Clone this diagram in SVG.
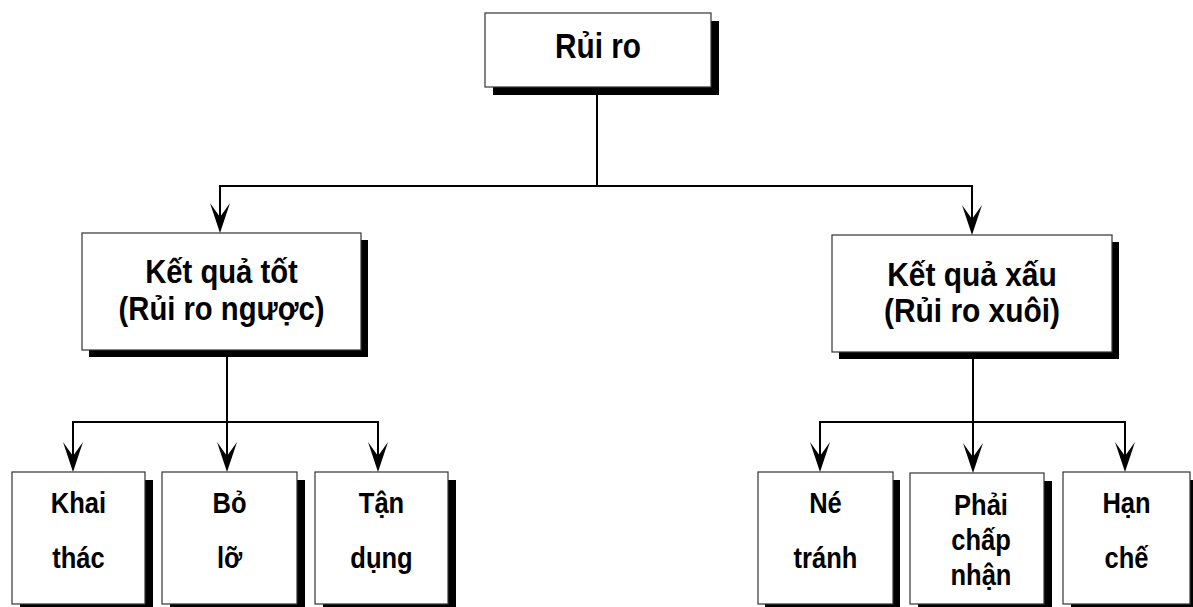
<svg xmlns="http://www.w3.org/2000/svg" width="1193" height="607" viewBox="0 0 1193 607">
<style>
.box{fill:#fff;stroke:#333;stroke-width:1.2}
.sh{fill:#000}
.conn{fill:none;stroke:#000;stroke-width:2}
.t{font-family:"Liberation Sans",Arial,sans-serif;font-weight:bold;fill:#000;text-anchor:middle}
.big{font-size:35px}
.mid{font-size:34px}
.sm{font-size:29px}
</style>
<defs>
<path id="ah" d="M0,0 L-10,-30 L0,-16 L10,-30 Z" fill="#000"/>
</defs>
<rect width="1193" height="607" fill="#fff"/>
<g id="connectors">
<path class="conn" d="M597,87 V186"/>
<path class="conn" d="M597,186 H220 V225"/>
<path class="conn" d="M597,186 H972 V227"/>
<path class="conn" d="M227,350 V422"/>
<path class="conn" d="M227,422 H73 V464"/>
<path class="conn" d="M227,422 V464"/>
<path class="conn" d="M227,422 H378 V464"/>
<path class="conn" d="M973,352 V422"/>
<path class="conn" d="M973,422 H820 V464"/>
<path class="conn" d="M973,422 V465"/>
<path class="conn" d="M973,422 H1125 V464"/>
<use href="#ah" x="220" y="233"/>
<use href="#ah" x="972" y="235"/>
<use href="#ah" x="73" y="472"/>
<use href="#ah" x="227" y="472"/>
<use href="#ah" x="378" y="472"/>
<use href="#ah" x="820" y="472"/>
<use href="#ah" x="973" y="473"/>
<use href="#ah" x="1125" y="472"/>
</g>
<g id="rui-ro">
<rect class="sh" x="493" y="21" width="226" height="74"/>
<rect class="box" x="485" y="13" width="226" height="74"/>
<text class="t big" transform="translate(598,58) scale(0.85,1)">Rủi ro</text>
</g>
<g id="ket-qua-tot">
<rect class="sh" x="89" y="240" width="279" height="117"/>
<rect class="box" x="82" y="233" width="279" height="117"/>
<text class="t mid" transform="translate(221.5,283) scale(0.86,1)">Kết quả tốt</text>
<text class="t mid" transform="translate(221.5,320) scale(0.86,1)">(Rủi ro ngược)</text>
</g>
<g id="ket-qua-xau">
<rect class="sh" x="839" y="242" width="280" height="117"/>
<rect class="box" x="832" y="235" width="280" height="117"/>
<text class="t mid" transform="translate(972,286) scale(0.88,1)">Kết quả xấu</text>
<text class="t mid" transform="translate(972,322) scale(0.88,1)">(Rủi ro xuôi)</text>
</g>
<g id="khai-thac">
<rect class="sh" x="20" y="480" width="133" height="132"/>
<rect class="box" x="12" y="472" width="133" height="132"/>
<text class="t sm" transform="translate(78.5,513) scale(0.88,1)">Khai</text>
<text class="t sm" transform="translate(78.5,568) scale(0.88,1)">thác</text>
</g>
<g id="bo-lo">
<rect class="sh" x="170" y="480" width="135" height="132"/>
<rect class="box" x="162" y="472" width="135" height="132"/>
<text class="t sm" transform="translate(229.5,513) scale(0.88,1)">Bỏ</text>
<text class="t sm" transform="translate(229.5,568) scale(0.88,1)">lỡ</text>
</g>
<g id="tan-dung">
<rect class="sh" x="323" y="480" width="133" height="132"/>
<rect class="box" x="315" y="472" width="133" height="132"/>
<text class="t sm" transform="translate(381.5,513) scale(0.88,1)">Tận</text>
<text class="t sm" transform="translate(381.5,568) scale(0.88,1)">dụng</text>
</g>
<g id="ne-tranh">
<rect class="sh" x="765" y="480" width="135" height="132"/>
<rect class="box" x="758" y="472" width="135" height="132"/>
<text class="t sm" transform="translate(825.5,513) scale(0.88,1)">Né</text>
<text class="t sm" transform="translate(825.5,568) scale(0.88,1)">tránh</text>
</g>
<g id="phai-chap-nhan">
<rect class="sh" x="918" y="481" width="134" height="131"/>
<rect class="box" x="910" y="473" width="134" height="131"/>
<text class="t sm" transform="translate(981,515) scale(0.88,1)">Phải</text>
<text class="t sm" transform="translate(981,550) scale(0.88,1)">chấp</text>
<text class="t sm" transform="translate(981,585) scale(0.88,1)">nhận</text>
</g>
<g id="han-che">
<rect class="sh" x="1071" y="480" width="127" height="132"/>
<rect class="box" x="1063" y="472" width="127" height="132"/>
<text class="t sm" transform="translate(1126.5,513) scale(0.88,1)">Hạn</text>
<text class="t sm" transform="translate(1126.5,568) scale(0.88,1)">chế</text>
</g>
</svg>
